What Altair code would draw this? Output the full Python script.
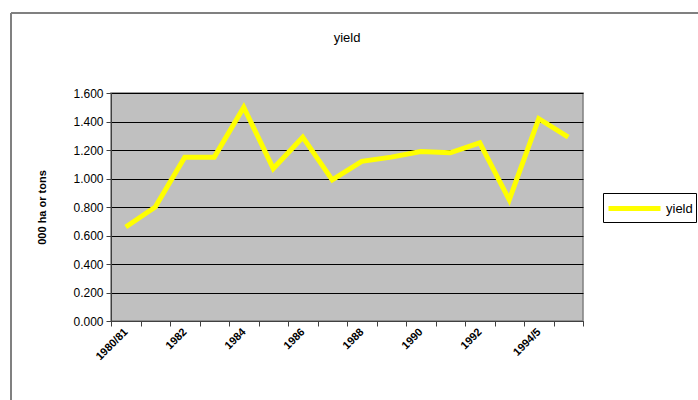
import altair as alt
import pandas as pd

periods = ["1980/81", "1981", "1982", "1983", "1984", "1985", "1986", "1987",
           "1988", "1989", "1990", "1991", "1992", "1993", "1994/5", "1995/6"]
yield_values = [0.66, 0.80, 1.15, 1.15, 1.50, 1.07, 1.29, 0.99,
                1.12, 1.15, 1.19, 1.18, 1.25, 0.85, 1.42, 1.29]
shown_labels = ["1980/81", "1982", "1984", "1986", "1988", "1990", "1992", "1994/5"]
series_name = "yield"
y_ticks = [0.0, 0.2, 0.4, 0.6, 0.8, 1.0, 1.2, 1.4, 1.6]

df = pd.DataFrame({"period": periods, "value": yield_values, "series": series_name})

label_list = "[" + ",".join("'" + s + "'" for s in shown_labels) + "]"

line = alt.Chart(df).mark_line(strokeWidth=5, clip=False).encode(
    x=alt.X("period:N", sort=periods,
            scale=alt.Scale(type="band", paddingInner=0, paddingOuter=0),
            axis=alt.Axis(title=None, tickBand="extent", labelAngle=-45,
                          labelAlign="right", labelBaseline="middle",
                          labelExpr=f"indexof({label_list}, datum.value) >= 0 ? datum.label : ''",
                          labelFont="Liberation Sans", labelFontSize=11, labelFontWeight="bold",
                          labelColor="black", labelPadding=4, tickSize=5,
                          tickColor="#404040", domainColor="#404040", grid=False,
                          labelOverlap=False)),
    y=alt.Y("value:Q", scale=alt.Scale(domain=[0, 1.6], nice=False),
            axis=alt.Axis(title="000 ha or tons", values=y_ticks, format=".3f",
                          labelFont="Liberation Sans", labelFontSize=12, labelColor="black",
                          tickSize=5, tickColor="#404040", domainColor="#404040",
                          gridColor="black", gridWidth=1, gridOpacity=1,
                          titleFont="Liberation Sans", titleFontSize=11, titleFontWeight="bold",
                          titleColor="black", titleX=-64, labelPadding=3)),
    color=alt.Color("series:N", scale=alt.Scale(range=["#FFFF00"]),
                    legend=alt.Legend(title=None, orient="none", legendX=492, legendY=100,
                                      symbolType="M-1,0H4.2", symbolSize=400,
                                      symbolStrokeWidth=5, strokeColor="black",
                                      fillColor="white", padding=3,
                                      labelFont="Liberation Sans", labelFontSize=13,
                                      labelColor="black", labelOffset=35)),
)

frame_df = pd.DataFrame({"a": [0]})
top_rule = alt.Chart(frame_df).mark_rule(color="#808080", strokeWidth=2).encode(
    x=alt.value(-100), x2=alt.value(600), y=alt.value(-80))
left_rule = alt.Chart(frame_df).mark_rule(color="#808080", strokeWidth=2).encode(
    x=alt.value(-100), y=alt.value(-80), y2=alt.value(320))

chart = alt.layer(top_rule, left_rule, line).properties(
    width=472, height=228,
    title=alt.TitleParams("yield", font="Liberation Sans", fontSize=13, fontWeight="normal",
                          color="black", offset=-33, anchor="middle"),
    autosize=alt.AutoSizeParams(type="none"),
    padding={"left": 111, "top": 93, "right": 115, "bottom": 79},
    background="white",
).configure_view(fill="#C0C0C0", stroke="#808080", strokeWidth=1.5)

chart.save("out.html", embed_options={"renderer": "svg", "actions": False})
